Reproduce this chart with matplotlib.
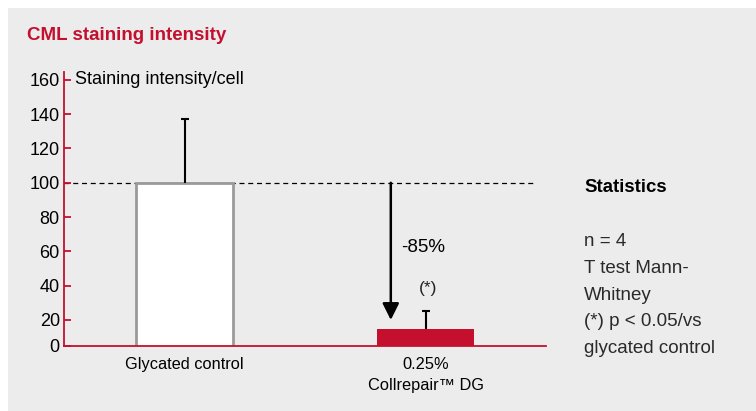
import matplotlib.pyplot as plt
from matplotlib.patches import Rectangle

plt.rcParams['font.family'] = ['Liberation Sans', 'DejaVu Sans']

# CML staining intensity per cell (glycated control = 100)
groups = ['Glycated control', '0.25%\nCollrepair\u2122 DG']
values = [100, 15]
errors = [37, 10]
reduction_label = '-85%'
signif_label = '(*)'
tick_values = [5, 20, 40, 60, 80, 100, 120, 140, 160]
tick_labels = ['0', '20', '40', '60', '80', '100', '120', '140', '160']
stats_lines = ['n = 4', 'T test Mann-', 'Whitney', '(*) p < 0.05/vs', 'glycated control']

red = '#c4102e'
panel = '#ececec'

fig = plt.figure(figsize=(7.56, 4.11), dpi=100)
fig.patch.set_facecolor('white')
fig.patches.append(Rectangle((8 / 756, 0), 1, 1 - 8 / 411, transform=fig.transFigure,
                             facecolor=panel, edgecolor='none', zorder=-10))

ax = fig.add_axes([64 / 756, 65.3 / 411, 482 / 756, 273.7 / 411])
ax.set_facecolor('none')
ax.set_xlim(0, 1)
ax.set_ylim(5, 164.6)

x = [0.25, 0.75]
ax.bar(x[0], values[0], width=0.2, color='white', edgecolor='#9a9a9a', linewidth=2, zorder=2)
ax.bar(x[1], values[1], width=0.2, color=red, edgecolor='none', zorder=2)
_, caps, _ = ax.errorbar(x, values, yerr=[[0, 0], errors], fmt='none', ecolor='black',
                         elinewidth=1.5, capsize=3, capthick=1.5, zorder=3)
# only the upper whisker gets a cap
for cap in caps:
    if list(cap.get_ydata()) == values:
        cap.set_visible(False)

# reference level of the control
ax.plot([0, 0.973], [values[0], values[0]], ls=(0, (4, 3)), color='black', lw=0.9, zorder=1)
ax.annotate('', xy=(0.678, 20), xytext=(0.678, values[0]),
            arrowprops=dict(arrowstyle='-|>,head_length=1.0,head_width=0.5',
                            color='black', lw=1.8, shrinkA=0, shrinkB=0))
ax.text(0.70, 62, reduction_label, fontsize=13.5, va='center', ha='left')
ax.text(0.755, 38.5, signif_label, fontsize=12.5, va='center', ha='center', color='#222222')

for side in ['top', 'right']:
    ax.spines[side].set_visible(False)
for side in ['left', 'bottom']:
    ax.spines[side].set_color(red)
    ax.spines[side].set_linewidth(1.3)
ax.spines['bottom'].set_bounds(0, 1)

ax.set_yticks(tick_values)
ax.set_yticklabels(tick_labels)
ax.tick_params(axis='y', direction='in', length=5, width=1.3, color=red,
               labelsize=13, pad=3)
ax.set_xticks(x)
ax.set_xticklabels(groups, linespacing=1.5)
ax.tick_params(axis='x', length=0, labelsize=11.8, pad=8)

ax.text(0.022, 160, 'Staining intensity/cell', fontsize=13, va='center', ha='left')

fig.text(27 / 756, 1 - 36 / 411, 'CML staining intensity', color=red, fontsize=13.5,
         fontweight='bold', va='center', ha='left')

fig.text(584 / 756, 1 - 187 / 411, 'Statistics', fontsize=13.4, fontweight='bold',
         va='center', ha='left')
for i, line in enumerate(stats_lines):
    fig.text(584 / 756, 1 - (242 + 26.6 * i) / 411, line, fontsize=13.5, color='#2a2a2a',
             va='center', ha='left')

fig.savefig('out.png', dpi=100)
